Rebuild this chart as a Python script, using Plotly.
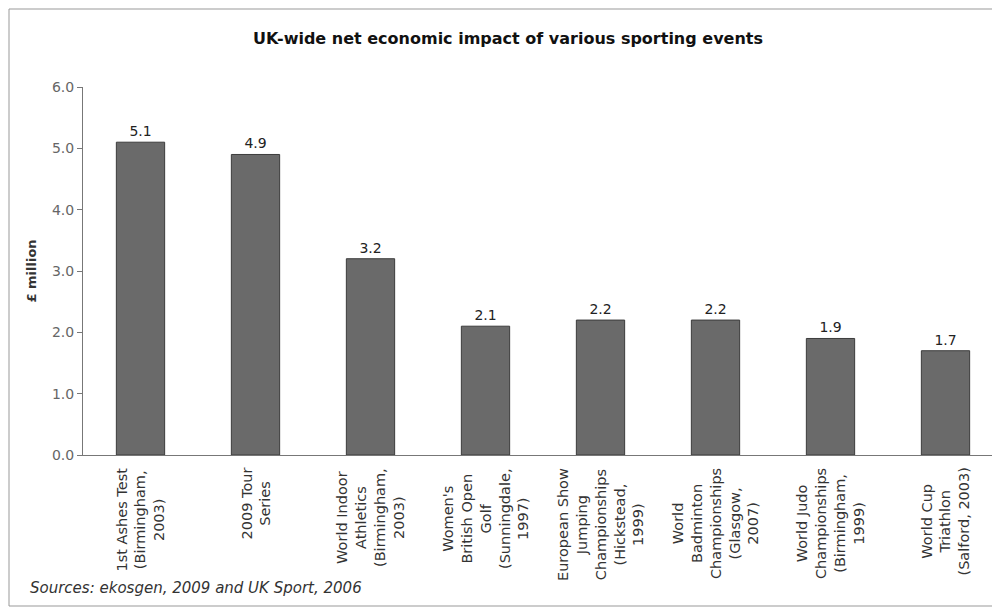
import plotly.graph_objects as go

categories = [
    "1st Ashes Test<br>(Birmingham,<br>2003)",
    "2009 Tour<br>Series",
    "World Indoor<br>Athletics<br>(Birmingham,<br>2003)",
    "Women's<br>British Open<br>Golf<br>(Sunningdale,<br>1997)",
    "European Show<br>Jumping<br>Championships<br>(Hickstead,<br>1999)",
    "World<br>Badminton<br>Championships<br>(Glasgow,<br>2007)",
    "World Judo<br>Championships<br>(Birmingham,<br>1999)",
    "World Cup<br>Triathlon<br>(Salford, 2003)",
]
values = [5.1, 4.9, 3.2, 2.1, 2.2, 2.2, 1.9, 1.7]
y_ticks = [0, 1, 2, 3, 4, 5, 6]

# figure-pixel layout (page adds 8px body margin)
L, R, T, B = 75, 5, 79, 160
W, H = 1000, 607
PW, PH = W - L - R, H - T - B
FONT = "DejaVu Sans, Verdana, sans-serif"

def px(fx):
    return (fx - L) / PW

def py(fy):
    return (H - B - fy) / PH

fig = go.Figure(go.Bar(
    x=categories, y=values,
    marker=dict(color="#6a6a6a", line=dict(color="#3c3c3c", width=1)),
    text=[f"{v:.1f}" for v in values], textposition="outside",
    textfont=dict(size=14, color="#222"), cliponaxis=False,
))

fig.update_layout(
    width=W, height=H,
    paper_bgcolor="white", plot_bgcolor="white",
    margin=dict(l=L, r=R, t=T, b=B),
    bargap=0.58,
    font=dict(family=FONT, size=13, color="#333"),
    title=dict(text="<b>UK-wide net economic impact of various sporting events</b>",
               x=0.5, xanchor="center", y=1 - 30 / H, yanchor="middle",
               font=dict(size=16, color="#111")),
    showlegend=False,
)
fig.update_yaxes(range=[0, 6], tickvals=y_ticks, tickformat=".1f",
                 showgrid=False, showline=True, linecolor="#777", linewidth=1,
                 ticks="outside", ticklen=5, tickcolor="#777",
                 tickfont=dict(size=14, color="#666"),
                 title=dict(text="<b>£ million</b>", font=dict(size=13, color="#333"), standoff=12))
fig.update_xaxes(showline=True, linecolor="#777", linewidth=1, showticklabels=False, ticks="")

for c in categories:
    fig.add_annotation(x=c, xref="x", y=py(H - B + 11), yref="paper", text=c,
                       textangle=-90, align="center", xanchor="center", yanchor="top",
                       showarrow=False, font=dict(size=14.5, color="#333"))

fig.add_shape(type="rect", xref="paper", yref="paper", x0=px(1), x1=px(987), y0=py(598), y1=py(1),
              line=dict(color="#999", width=1), fillcolor="rgba(0,0,0,0)", layer="below")
fig.add_annotation(text="<i>Sources: ekosgen, 2009 and UK Sport, 2006</i>",
                   xref="paper", yref="paper", x=px(20), y=py(580), xanchor="left", yanchor="middle",
                   showarrow=False, font=dict(size=15, color="#333"))

fig.write_html("out.html")
